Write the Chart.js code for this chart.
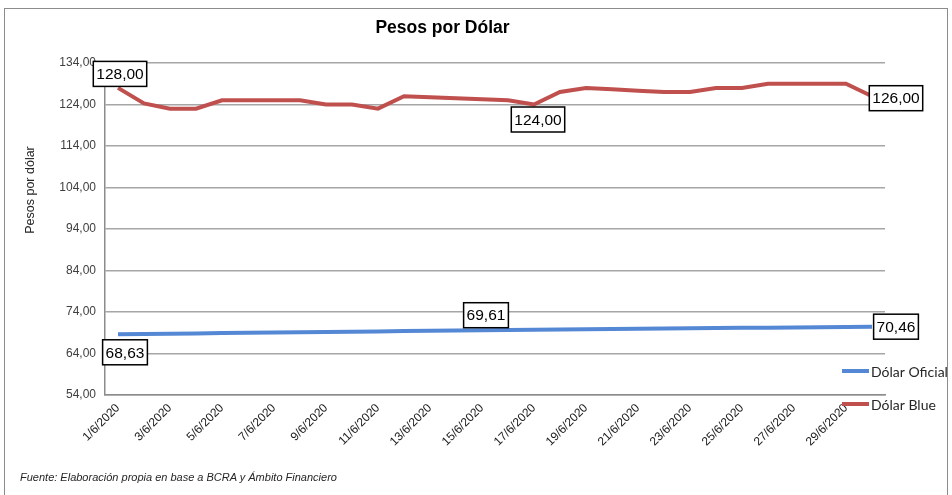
<!DOCTYPE html>
<html>
<head>
    <meta charset="utf-8">
    <title>Pesos por Dólar</title>
    <script src="https://cdn.jsdelivr.net/npm/chart.js"></script>
    <style>
        body { margin: 0; background: #fff; }
        #marco { position: absolute; left: 4px; top: 8px; width: 942px; height: 500px;
                 border: 1px solid #8c8c8c; border-bottom: none; pointer-events: none; }
        #fuente { position: absolute; left: 20px; top: 471px; font: italic 11px 'Liberation Sans', Arial, sans-serif; color: #262626; }
    </style>
</head>
<body>
    <div style="position:relative;width:952px;height:495px;">
        <canvas id="chart" width="952" height="495"></canvas>
    </div>
    <div id="marco"></div>
    <div id="fuente">Fuente: Elaboración propia en base a BCRA y Ámbito Financiero</div>

    <script>
        // Fechas (junio 2020)
        var fechas = [];
        for (var d = 1; d <= 30; d++) fechas.push(d + '/6/2020');

        // Dólar oficial
        var oficial = [68.63, 68.70, 68.77, 68.84, 68.91, 68.98, 69.05, 69.12, 69.19, 69.26,
                       69.33, 69.40, 69.47, 69.54, 69.61, 69.67, 69.72, 69.78, 69.84, 69.89,
                       69.95, 70.01, 70.06, 70.12, 70.18, 70.23, 70.29, 70.35, 70.40, 70.46];

        // Dólar blue
        var blue = [128, 124.25, 123, 123, 125, 125, 125, 125, 124, 124,
                    123, 126, 125.75, 125.5, 125.25, 125, 124, 127, 128, 127.67,
                    127.33, 127, 127, 128, 128, 129, 129, 129, 129, 126];

        var ticksY = [54, 64, 74, 84, 94, 104, 114, 124, 134];

        var fuente = "'Liberation Sans', Arial, sans-serif";

        function coma(v) {
            return Number(v).toFixed(2).replace('.', ',');
        }

        // etiquetas de datos puestas a mano como en el original
        var etiquetas = [
            { serie: 1, i: 0, dx: 2, dy: -14 },
            { serie: 1, i: 16, dx: 4, dy: 15 },
            { serie: 1, i: 29, dx: 24, dy: 2 },
            { serie: 0, i: 0, dx: 7, dy: 18 },
            { serie: 0, i: 14, dx: 4, dy: -15 },
            { serie: 0, i: 29, dx: 24, dy: 0 }
        ];

        var pluginExtras = {
            id: 'extras',
            afterDatasetsDraw: function(chart) {
                var ctx = chart.ctx;
                ctx.save();
                // etiquetas
                ctx.font = '15.5px ' + fuente;
                ctx.textAlign = 'center';
                ctx.textBaseline = 'middle';
                etiquetas.forEach(function(e) {
                    var p = chart.getDatasetMeta(e.serie).data[e.i];
                    var txt = coma(chart.data.datasets[e.serie].data[e.i]);
                    var w = ctx.measureText(txt).width + 6;
                    var h = 25;
                    var cx = p.x + e.dx, cy = p.y + e.dy;
                    ctx.fillStyle = '#fff';
                    ctx.fillRect(cx - w / 2, cy - h / 2, w, h);
                    ctx.strokeStyle = '#000';
                    ctx.lineWidth = 1.5;
                    ctx.strokeRect(cx - w / 2, cy - h / 2, w, h);
                    ctx.fillStyle = '#000';
                    ctx.fillText(txt, cx, cy + 1);
                });

                // titulo eje Y
                ctx.save();
                ctx.translate(31, chart.chartArea.top + 127);
                ctx.rotate(-Math.PI / 2);
                ctx.font = '12.5px ' + fuente;
                ctx.fillStyle = '#262626';
                ctx.fillText('Pesos por dólar', 0, 0);
                ctx.restore();

                // leyenda
                ctx.font = '14px Lato, sans-serif';
                ctx.textAlign = 'left';
                chart.data.datasets.forEach(function(ds, k) {
                    var y = chart.chartArea.bottom - 24 + k * 33;
                    ctx.strokeStyle = ds.borderColor;
                    ctx.lineWidth = 4;
                    ctx.beginPath();
                    ctx.moveTo(842, y);
                    ctx.lineTo(869, y);
                    ctx.stroke();
                    ctx.fillStyle = '#262626';
                    ctx.fillText(ds.label, 871, y + 1);
                });
                ctx.restore();
            }
        };

        var ctx = document.getElementById('chart').getContext('2d');
        new Chart(ctx, {
            type: 'line',
            data: {
                labels: fechas,
                datasets: [
                    {
                        label: 'Dólar Oficial',
                        data: oficial,
                        borderColor: '#5588d4',
                        borderWidth: 4,
                        pointRadius: 0,
                        tension: 0
                    },
                    {
                        label: 'Dólar Blue',
                        data: blue,
                        borderColor: '#c0504d',
                        borderWidth: 4,
                        pointRadius: 0,
                        tension: 0
                    }
                ]
            },
            plugins: [pluginExtras],
            options: {
                responsive: false,
                animation: false,
                layout: { padding: { left: 0, right: 67, top: 0, bottom: 0 } },
                plugins: {
                    legend: { display: false },
                    tooltip: { enabled: false },
                    title: {
                        display: true,
                        text: 'Pesos por Dólar',
                        color: '#000',
                        font: { family: fuente, size: 17.5, weight: 'bold', lineHeight: 1.2 },
                        padding: { top: 18, bottom: 24 }
                    }
                },
                scales: {
                    x: {
                        offset: true,
                        grid: { display: false, drawTicks: false },
                        border: { display: true, color: '#8c8c8c', width: 1.5 },
                        ticks: {
                            autoSkip: false,
                            minRotation: 45,
                            maxRotation: 45,
                            padding: 6,
                            color: '#1a1a1a',
                            font: { family: fuente, size: 12 },
                            callback: function(v, i) { return i % 2 === 0 ? fechas[i] : ''; }
                        },
                        afterFit: function(s) { s.height = 100; }
                    },
                    y: {
                        min: ticksY[0],
                        max: ticksY[ticksY.length - 1],
                        afterBuildTicks: function(s) { s.ticks = ticksY.map(function(v) { return { value: v }; }); },
                        grid: { color: '#a6a6a6', lineWidth: 1.5, drawTicks: false },
                        border: { display: true, color: '#8c8c8c', width: 1.5 },
                        ticks: {
                            padding: 9,
                            color: '#404040',
                            font: { family: fuente, size: 12 },
                            callback: function(v) { return coma(v); }
                        },
                        afterFit: function(s) { s.width = 105; }
                    }
                }
            }
        });
    </script>
</body>
</html>
